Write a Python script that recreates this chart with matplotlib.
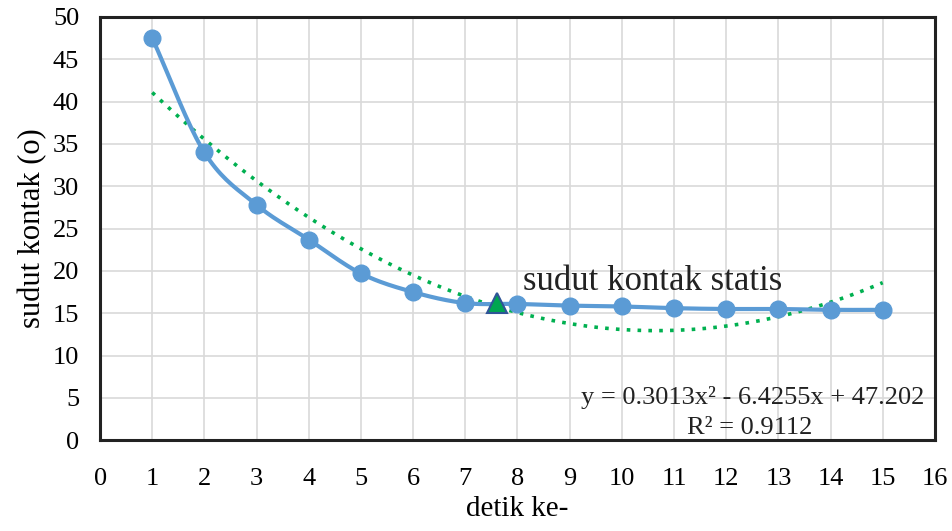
import numpy as np
import matplotlib.pyplot as plt

# data
detik = [1, 2, 3, 4, 5, 6, 7, 8, 9, 10, 11, 12, 13, 14, 15]
sudut = [47.5, 34.0, 27.8, 23.7, 19.7, 17.5, 16.2, 16.1, 15.9, 15.8, 15.6, 15.5, 15.5, 15.4, 15.4]
statis_x = [7.6]
statis_y = [16.2]
# polynomial trendline coefficients (as printed on the chart)
coef = [0.3013, -6.4255, 47.202]
r2 = 0.9112

plt.rcParams['font.family'] = ['Liberation Serif', 'DejaVu Serif']


def smooth(x, y, n=20):
    # Catmull-Rom style smoothing, like Excel's "smoothed line"
    x = np.asarray(x, float)
    y = np.asarray(y, float)
    px = np.concatenate([[2 * x[0] - x[1]], x, [2 * x[-1] - x[-2]]])
    py = np.concatenate([[2 * y[0] - y[1]], y, [2 * y[-1] - y[-2]]])
    xs, ys = [], []
    t = np.linspace(0, 1, n)
    for i in range(1, len(px) - 2):
        for p, out in ((px, xs), (py, ys)):
            p0, p1, p2, p3 = p[i - 1], p[i], p[i + 1], p[i + 2]
            out.extend(0.5 * (2 * p1 + (-p0 + p2) * t
                              + (2 * p0 - 5 * p1 + 4 * p2 - p3) * t ** 2
                              + (-p0 + 3 * p1 - 3 * p2 + p3) * t ** 3))
    return xs, ys


fig = plt.figure(figsize=(9.53, 5.31), dpi=100)
ax = fig.add_axes([0.105, 0.171, 0.876, 0.797])

sx, sy = smooth(detik, sudut)
ax.plot(sx, sy, color='#5B9BD5', lw=3, zorder=3)
ax.plot(detik, sudut, 'o', color='#5B9BD5', ms=12, zorder=4)

xt = np.linspace(detik[0], detik[-1], 200)
ax.plot(xt, np.polyval(coef, xt), color='#00B050', lw=2.6, ls=(0, (1, 2)), zorder=2)

ax.plot(statis_x, statis_y, '^', color='#00A651', mec='#2F5597', mew=1.5, ms=15, zorder=5)
ax.text(8.1, 17.7, 'sudut kontak statis', fontsize=25, color='#222222', va='baseline', zorder=6)

ax.text(15.8, 5.1, 'y = 0.3013x² - 6.4255x + 47.202', fontsize=19,
        ha='right', va='center', color='#222222')
ax.text(13.66, 1.4, 'R² = {}'.format(r2), fontsize=19, ha='right', va='center', color='#222222')

ax.set_xlim(0, 16)
ax.set_ylim(0, 50)
ax.set_xticks(range(0, 17))
ax.set_yticks(range(0, 51, 5))
ax.grid(True, color='#D9D9D9', lw=1.2)
ax.set_axisbelow(True)
ax.tick_params(axis='x', length=0, labelsize=19, pad=20)
ax.tick_params(axis='y', length=0, labelsize=19, pad=15)
for s in ax.spines.values():
    s.set_linewidth(2.2)
    s.set_color('#222222')

ax.set_xlabel('detik ke-', fontsize=21, labelpad=4)
ax.set_ylabel('sudut kontak (o)', fontsize=22, labelpad=4)

plt.savefig('out.png', dpi=100)
